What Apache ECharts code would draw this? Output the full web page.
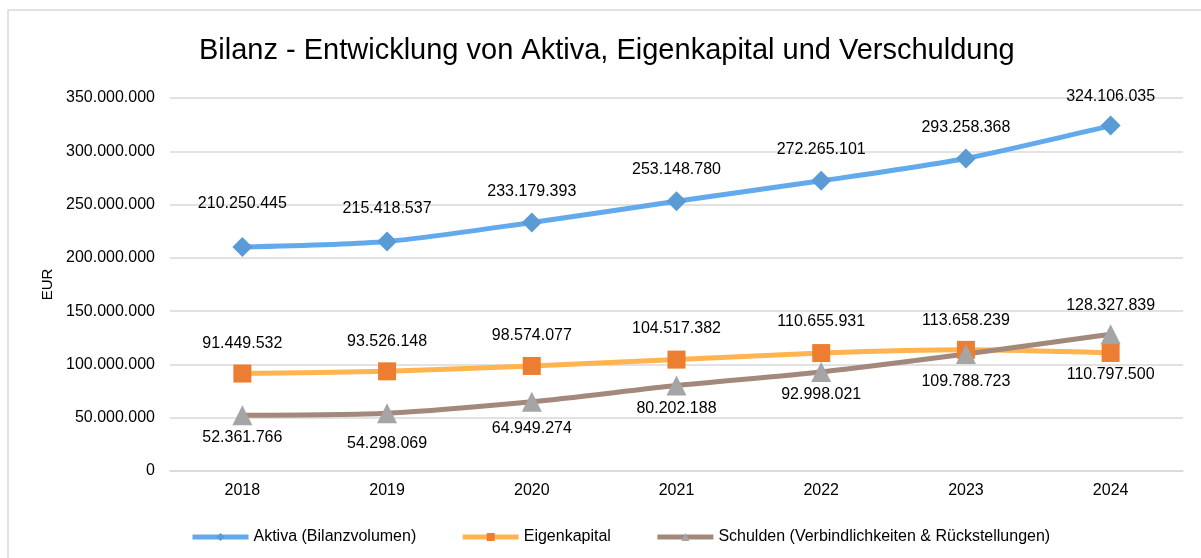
<!DOCTYPE html>
<html>
<head>
<meta charset="utf-8">
<script src="https://cdn.jsdelivr.net/npm/echarts@6/dist/echarts.min.js"></script>
<style>
  html, body { margin: 0; padding: 0; background: #fff; }
  #chart { width: 1201px; height: 558px; }
</style>
</head>
<body>
<div id="chart"></div>
<script>
!function(){
	'use strict';

	var years = ['2018', '2019', '2020', '2021', '2022', '2023', '2024'];
	var aktiva = [210250445, 215418537, 233179393, 253148780, 272265101, 293258368, 324106035];
	var eigenkapital = [91449532, 93526148, 98574077, 104517382, 110655931, 113658239, 110797500];
	var schulden = [52361766, 54298069, 64949274, 80202188, 92998021, 109788723, 128327839];
	var yTicks = [0, 50000000, 100000000, 150000000, 200000000, 250000000, 300000000, 350000000];
	var names = ['Aktiva (Bilanzvolumen)', 'Eigenkapital', 'Schulden (Verbindlichkeiten & Rückstellungen)'];

	// label placement per point (position, distance)
	var aktivaLbl = [['top', 25], ['top', 15], ['top', 13], ['top', 14], ['top', 13], ['top', 13], ['top', 11]];
	var eigenLbl = [['top', 13], ['top', 13], ['top', 13], ['top', 14], ['top', 14], ['top', 12], ['bottom', 5]];
	var schuldenLbl = [['bottom', 4], ['bottom', 12], ['bottom', 9], ['bottom', 5], ['bottom', 5], ['bottom', 10], ['top', 11]];

	var lineColors = ['#62aaeb', '#ffb44f', '#a3887c'];
	var markColors = ['#5b9bd5', '#ed7d31', '#a5a5a5'];

	function fmt(v){
		return String(Math.round(v)).replace(/\B(?=(\d{3})+(?!\d))/g, '.');
	}

	function build(values, lbl){
		return values.map(function(v, i){
			return { value: v, label: { position: lbl[i][0], distance: lbl[i][1] } };
		});
	}

	var font = 'Liberation Sans, Arial, sans-serif';
	var chart = echarts.init(document.getElementById('chart'));

	function mkSeries(idx, values, lbl, symbol, size){
		return {
			name: names[idx],
			type: 'line',
			smooth: 0.25,
			data: build(values, lbl),
			symbol: symbol,
			symbolSize: size,
			lineStyle: { width: 5, color: lineColors[idx] },
			itemStyle: { color: markColors[idx] },
			label: {
				show: true,
				formatter: function(p){ return fmt(p.value); },
				color: '#000',
				fontSize: 16,
				fontFamily: font
			},
			emphasis: { disabled: true },
			z: 3
		};
	}

	chart.setOption({
		animation: false,
		backgroundColor: '#fff',
		textStyle: { fontFamily: font },
		graphic: [{
			type: 'rect',
			shape: { x: 8, y: 10, width: 1220, height: 580 },
			style: { fill: 'none', stroke: '#d9d9d9', lineWidth: 1.5 },
			silent: true
		}],
		title: {
			text: 'Bilanz - Entwicklung von Aktiva, Eigenkapital und Verschuldung',
			left: 194,
			top: 31,
			textStyle: { fontSize: 29, fontWeight: 'normal', color: '#000', fontFamily: font }
		},
		legend: {
			left: 185,
			top: 524,
			itemWidth: 56,
			itemHeight: 10,
			itemGap: 44,
			lineStyle: { width: 5 },
			textStyle: { fontSize: 16, color: '#000', fontFamily: font },
			data: names.map(function(n, i){
				return { name: n, lineStyle: { color: lineColors[i], width: 5 }, itemStyle: { color: markColors[i] } };
			})
		},
		grid: { left: 170, right: 18, top: 98, bottom: 87, containLabel: false },
		xAxis: {
			type: 'category',
			data: years,
			boundaryGap: true,
			axisLine: { lineStyle: { color: '#d9d9d9', width: 1.5 } },
			axisTick: { show: false },
			axisLabel: { color: '#000', fontSize: 16, margin: 12, fontFamily: font }
		},
		yAxis: {
			type: 'value',
			min: yTicks[0],
			max: yTicks[yTicks.length - 1],
			interval: yTicks[1] - yTicks[0],
			name: 'EUR',
			nameLocation: 'middle',
			nameRotate: 90,
			nameGap: 114,
			nameTextStyle: { color: '#000', fontSize: 15, fontFamily: font },
			axisLine: { show: false },
			axisTick: { show: false },
			splitLine: { lineStyle: { color: '#d9d9d9', width: 1.5 } },
			axisLabel: { color: '#000', fontSize: 16, margin: 15, fontFamily: font, formatter: fmt }
		},
		series: [
			mkSeries(0, aktiva, aktivaLbl, 'diamond', 20),
			mkSeries(1, eigenkapital, eigenLbl, 'rect', 18),
			mkSeries(2, schulden, schuldenLbl, 'triangle', 20)
		]
	});
}();
</script>
</body>
</html>
